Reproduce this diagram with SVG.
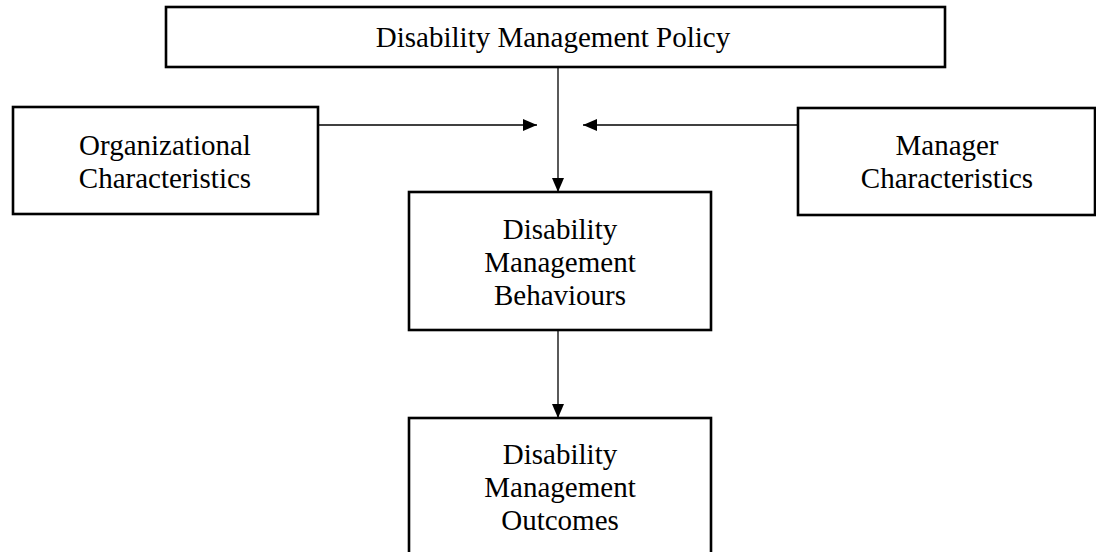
<svg xmlns="http://www.w3.org/2000/svg" width="1096" height="552" viewBox="0 0 1096 552">
<style>
.box{fill:#fff;stroke:#000;stroke-width:2.6}
.lbl{font-family:"Liberation Serif","Times New Roman",serif;font-size:29px;fill:#000;text-anchor:middle}
.con{stroke:#000;stroke-width:1.3;fill:none}
</style>
<defs>
<marker id="ah" viewBox="0 0 14 12" refX="14" refY="6" markerWidth="14" markerHeight="12" markerUnits="userSpaceOnUse" orient="auto">
<path d="M0,0 L14,6 L0,12 Z" fill="#000"/>
</marker>
</defs>
<rect width="1096" height="552" fill="#fff"/>
<g id="connectors">
<line class="con" x1="558" y1="67" x2="558" y2="192" marker-end="url(#ah)"/>
<line class="con" x1="318" y1="125" x2="537" y2="125" marker-end="url(#ah)"/>
<line class="con" x1="798" y1="125" x2="583" y2="125" marker-end="url(#ah)"/>
<line class="con" x1="558" y1="330" x2="558" y2="418" marker-end="url(#ah)"/>
</g>
<g id="policy">
<rect class="box" x="166" y="7" width="779" height="60"/>
<text class="lbl" x="553" y="47">Disability Management Policy</text>
</g>
<g id="org">
<rect class="box" x="13" y="107" width="305" height="107"/>
<text class="lbl" x="165" y="155">Organizational</text>
<text class="lbl" x="165" y="188">Characteristics</text>
</g>
<g id="manager">
<rect class="box" x="798" y="108" width="297" height="107"/>
<text class="lbl" x="947" y="155">Manager</text>
<text class="lbl" x="947" y="188">Characteristics</text>
</g>
<g id="behaviours">
<rect class="box" x="409" y="192" width="302" height="138"/>
<text class="lbl" x="560" y="239">Disability</text>
<text class="lbl" x="560" y="272">Management</text>
<text class="lbl" x="560" y="305">Behaviours</text>
</g>
<g id="outcomes">
<rect class="box" x="409" y="418" width="302" height="140"/>
<text class="lbl" x="560" y="464">Disability</text>
<text class="lbl" x="560" y="497">Management</text>
<text class="lbl" x="560" y="530">Outcomes</text>
</g>
</svg>
